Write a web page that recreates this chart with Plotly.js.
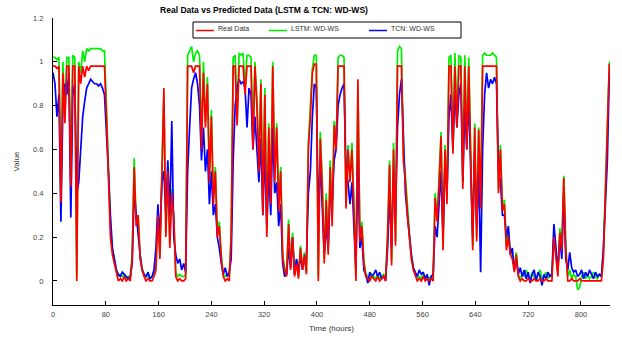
<!DOCTYPE html>
<html>
<head>
<meta charset="utf-8">
<script src="https://cdn.plot.ly/plotly-3.0.1.min.js"></script>
<style>html,body{margin:0;padding:0;background:#fff;}#chart{width:622px;height:342px;}</style>
</head>
<body>
<div id="chart"></div>
<script>
// sampling step of the readings (hours)
const stepHours = 3;

const realData = [
0.98,0.98,0.97,0.98,0.36,0.95,0.72,0.98,0.98,0.43,
0.98,0.98,0.0,0.98,0.9,0.98,0.93,0.98,0.96,0.98,
0.98,0.98,0.98,0.98,0.98,0.98,0.98,0.75,0.45,0.2,
0.12,0.08,0.03,0.0,0.01,0.0,0.02,0.0,0.01,0.0,
0.1,0.52,0.25,0.3,0.1,0.05,0.02,0.0,0.01,0.0,
0.0,0.02,0.05,0.3,0.1,0.45,0.88,0.2,0.5,0.15,
0.4,0.3,0.02,0.0,0.01,0.0,0.0,0.01,0.98,0.98,
0.98,0.95,0.98,0.98,0.98,0.6,0.95,0.7,0.9,0.45,
0.75,0.35,0.5,0.2,0.25,0.1,0.02,0.0,0.01,0.0,
0.2,0.98,0.98,0.71,0.98,0.98,0.98,0.85,0.98,0.98,
0.98,0.6,0.98,0.8,0.5,0.9,0.3,0.85,0.2,0.7,
0.35,0.98,0.45,0.7,0.32,0.5,0.1,0.05,0.02,0.26,
0.05,0.2,0.02,0.08,0.01,0.15,0.05,0.12,0.03,0.61,
0.75,0.95,0.99,0.99,0.0,0.65,0.43,0.08,0.37,0.12,
0.52,0.25,0.71,0.6,0.98,0.98,0.98,0.98,0.33,0.6,
0.45,0.6,0.32,0.0,0.92,0.18,0.25,0.08,0.02,0.01,
0.0,0.02,0.01,0.0,0.02,0.0,0.01,0.02,0.0,0.2,
0.53,0.07,0.6,0.16,0.98,0.98,0.98,0.55,0.45,0.3,
0.2,0.1,0.05,0.02,0.0,0.01,0.0,0.02,0.0,0.01,
0.0,0.01,0.0,0.38,0.27,0.44,0.66,0.14,0.6,0.35,
0.98,0.98,0.58,0.98,0.7,0.98,0.98,0.42,0.98,0.6,
0.98,0.55,0.14,0.7,0.18,0.69,0.33,0.98,0.98,0.98,
0.98,0.98,0.98,0.98,0.98,0.4,0.6,0.32,0.35,0.14,
0.2,0.12,0.1,0.04,0.12,0.02,0.0,0.01,0.0,0.0,
0.01,0.0,0.0,0.01,0.0,0.0,0.01,0.0,0.0,0.01,
0.0,0.0,0.0,0.2,0.1,0.02,0.22,0.14,0.47,0.14,
0.0,0.0,0.01,0.0,0.0,0.0,0.01,0.0,0.0,0.0,
0.0,0.0,0.0,0.0,0.0,0.0,0.0,0.0,0.1,0.4,
0.7,0.99];

const lstmPred = [
1.02,1.02,1.01,1.02,0.4,1.0,0.75,1.02,1.02,0.48,
1.03,1.02,0.02,1.0,0.95,1.05,1.0,1.06,1.05,1.06,
1.06,1.06,1.06,1.06,1.06,1.05,1.05,0.8,0.5,0.25,
0.15,0.1,0.05,0.02,0.03,0.02,0.03,0.01,0.02,0.01,
0.12,0.56,0.28,0.3,0.12,0.06,0.03,0.02,0.02,0.01,
0.02,0.03,0.08,0.32,0.12,0.48,0.85,0.22,0.52,0.18,
0.42,0.28,0.04,0.02,0.03,0.02,0.02,0.03,1.03,1.05,
1.07,1.0,1.04,1.05,1.03,0.65,1.0,0.72,0.93,0.5,
0.78,0.38,0.52,0.22,0.27,0.12,0.03,0.02,0.03,0.02,
0.22,1.02,1.03,0.75,1.04,1.03,1.04,0.88,1.03,1.03,
1.02,0.65,1.0,0.82,0.55,0.92,0.33,0.88,0.22,0.72,
0.38,1.0,0.48,0.72,0.35,0.52,0.12,0.06,0.03,0.28,
0.06,0.22,0.03,0.1,0.02,0.16,0.06,0.13,0.04,0.63,
0.78,0.97,1.03,1.03,0.02,0.68,0.45,0.1,0.4,0.14,
0.55,0.28,0.73,0.63,1.02,1.03,1.03,1.02,0.35,0.62,
0.47,0.63,0.35,0.02,0.9,0.2,0.27,0.1,0.03,0.02,
0.01,0.03,0.02,0.01,0.03,0.01,0.02,0.03,0.01,0.22,
0.55,0.09,0.63,0.18,1.05,1.07,1.06,0.58,0.48,0.33,
0.22,0.12,0.06,0.03,0.01,0.02,0.01,0.03,0.01,0.02,
0.01,0.02,0.01,0.4,0.29,0.47,0.68,0.16,0.62,0.37,
1.02,1.03,0.6,1.04,0.72,1.03,1.02,0.45,1.03,0.63,
1.02,0.57,0.16,0.72,0.2,0.7,0.35,1.03,1.04,1.03,
1.03,1.03,1.04,1.03,1.02,0.42,0.62,0.34,0.37,0.16,
0.22,0.13,0.12,0.06,0.13,0.03,0.01,0.03,0.02,0.05,
0.02,0.01,0.04,0.02,0.0,0.03,0.05,0.01,0.02,0.04,
0.01,0.03,0.02,0.22,0.12,0.03,0.24,0.16,0.48,0.16,
0.02,0.05,0.01,0.03,0.02,-0.04,-0.03,0.02,0.04,0.01,
0.03,0.01,0.02,0.04,0.02,0.01,0.03,0.02,0.13,0.45,
0.75,1.0];

const tcnPred = [
0.95,0.9,0.75,0.85,0.27,0.8,0.9,0.85,0.95,0.29,
0.85,0.9,0.4,0.45,0.6,0.75,0.82,0.88,0.9,0.92,
0.91,0.9,0.9,0.89,0.9,0.88,0.85,0.7,0.5,0.3,
0.15,0.1,0.05,0.03,0.02,0.04,0.03,0.02,0.01,0.02,
0.08,0.4,0.3,0.2,0.12,0.05,0.03,0.02,0.04,0.01,
0.02,0.05,0.15,0.35,0.2,0.45,0.5,0.3,0.55,0.3,
0.73,0.2,0.12,0.08,0.1,0.05,0.08,0.04,0.5,0.7,
0.88,0.92,0.95,0.9,0.8,0.55,0.7,0.5,0.6,0.35,
0.5,0.3,0.35,0.2,0.15,0.08,0.03,0.06,0.02,0.04,
0.1,0.55,0.8,0.88,0.92,0.9,0.91,0.88,0.7,0.88,
0.85,0.6,0.75,0.6,0.45,0.65,0.3,0.6,0.25,0.5,
0.3,0.7,0.4,0.45,0.25,0.35,0.08,0.02,0.03,0.15,
0.06,0.2,0.03,0.1,0.04,0.12,0.05,0.1,0.1,0.4,
0.5,0.75,0.9,0.88,0.3,0.55,0.3,0.12,0.25,0.15,
0.4,0.35,0.55,0.6,0.8,0.85,0.88,0.9,0.5,0.45,
0.35,0.45,0.25,0.05,0.55,0.15,0.2,0.05,0.03,-0.01,
0.04,0.02,0.03,0.05,0.02,0.04,0.01,0.02,0.0,0.15,
0.4,0.15,0.5,0.3,0.7,0.85,0.92,0.6,0.4,0.3,
0.2,0.12,0.06,0.04,0.02,0.05,0.03,0.04,0.01,0.03,
-0.02,0.02,0.03,0.25,0.2,0.35,0.5,0.2,0.55,0.4,
0.75,0.85,0.6,0.88,0.7,0.85,0.9,0.45,0.8,0.6,
0.85,0.5,0.2,0.6,0.25,0.5,0.04,0.6,0.85,0.95,
0.88,0.92,0.9,0.93,0.9,0.5,0.45,0.3,0.3,0.2,
0.25,0.12,0.15,0.05,0.1,0.03,0.06,0.02,0.05,0.01,
0.04,-0.01,0.03,0.05,0.0,0.04,0.02,-0.02,0.03,0.01,
0.04,0.02,0.03,0.26,0.15,0.05,0.2,0.1,0.4,0.1,
0.05,0.13,0.06,0.04,0.05,0.02,0.03,0.05,0.01,0.04,
0.02,0.05,0.03,0.01,0.04,0.02,0.03,0.02,0.15,0.35,
0.55,0.95];

const seriesNames = ['Real Data', 'LSTM: WD-WS', 'TCN: WD-WS'];
const xTickVals = [0, 80, 160, 240, 320, 400, 480, 560, 640, 720, 800];
const yTickVals = [0, 0.2, 0.4, 0.6, 0.8, 1, 1.2];
const yTickText = ['0', '0.2', '0.4', '0.6', '0.8', '1', '1.2'];

const hours = realData.map((_, i) => i * stepHours);

const colors = {real: '#ff0000', lstm: '#00ee00', tcn: '#0000ff'};

const traces = [
  {x: hours, y: lstmPred, name: seriesNames[1], type: 'scatter', mode: 'lines',
   line: {color: colors.lstm, width: 1.7}},
  {x: hours, y: tcnPred, name: seriesNames[2], type: 'scatter', mode: 'lines',
   line: {color: colors.tcn, width: 1.7}},
  {x: hours, y: realData, name: seriesNames[0], type: 'scatter', mode: 'lines',
   line: {color: colors.real, width: 1.7}}
];

// plot area in px: left 53, right 610, top 18, bottom 305
const L = 53, R = 610, T = 18, B = 305;
const px = v => (v - L) / (R - L);
const py = v => (B - v) / (B - T);

const legendItems = [
  {name: seriesNames[0], color: colors.real, x0: 196, x1: 214, tx: 216},
  {name: seriesNames[1], color: colors.lstm, x0: 269, x1: 287, tx: 289},
  {name: seriesNames[2], color: colors.tcn, x0: 369, x1: 387, tx: 389}
];

const shapes = [{type: 'rect', xref: 'paper', yref: 'paper', layer: 'above',
  x0: px(193), x1: px(461), y0: py(38), y1: py(22),
  fillcolor: '#ffffff', line: {color: '#000000', width: 1}}];
const annotations = [];
legendItems.forEach(it => {
  shapes.push({type: 'line', xref: 'paper', yref: 'paper', layer: 'above',
    x0: px(it.x0), x1: px(it.x1), y0: py(30.5), y1: py(30.5),
    line: {color: it.color, width: 1.5}});
  annotations.push({xref: 'paper', yref: 'paper', x: px(it.tx), y: py(28.5),
    xanchor: 'left', yanchor: 'middle', showarrow: false, text: it.name,
    font: {family: 'Liberation Sans, Arial, sans-serif', size: 7, color: '#333'}});
});

const layout = {
  width: 622, height: 342,
  margin: {l: L, r: 622 - R, t: T, b: 342 - B, pad: 0},
  paper_bgcolor: '#ffffff', plot_bgcolor: '#ffffff',
  showlegend: false,
  font: {family: 'Liberation Sans, Arial, sans-serif', size: 8, color: '#444'},
  title: {text: 'Real Data vs Predicted Data (LSTM & TCN: WD-WS)',
    xref: 'container', yref: 'container', x: 264 / 622, y: 1 - 10 / 342,
    xanchor: 'center', yanchor: 'middle',
    font: {family: 'Liberation Sans, Arial, sans-serif', size: 8.5, color: '#000', weight: 'bold'}},
  xaxis: {
    range: [0, 844], tickvals: xTickVals, ticks: 'inside', ticklen: 4,
    tickcolor: '#000', showline: true, linecolor: '#000', linewidth: 1,
    showgrid: false, zeroline: false, mirror: false,
    tickfont: {size: 7.5, color: '#444'}, ticklabelstandoff: 2,
    title: {text: 'Time (hours)', font: {size: 8, color: '#333'}, standoff: 7}
  },
  yaxis: {
    range: [-0.11, 1.2], tickvals: yTickVals, ticktext: yTickText,
    ticks: 'inside', ticklen: 4, tickcolor: '#000',
    showline: true, linecolor: '#000', linewidth: 1,
    showgrid: false, zeroline: false, mirror: false,
    tickfont: {size: 7.5, color: '#444'}, ticklabelstandoff: 7,
    title: {text: 'Value', font: {size: 8, color: '#333'}, standoff: 12}
  },
  shapes: shapes,
  annotations: annotations
};

Plotly.newPlot('chart', traces, layout, {displayModeBar: false, staticPlot: true});
</script>
</body>
</html>
